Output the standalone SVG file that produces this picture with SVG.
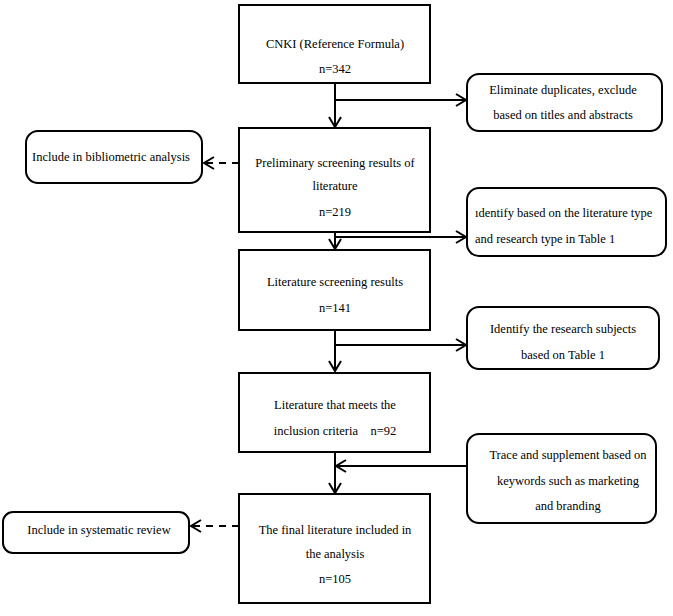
<svg xmlns="http://www.w3.org/2000/svg" width="673" height="616" viewBox="0 0 673 616">
<style>
.box{fill:#fff;stroke:#000;stroke-width:2}
.rbox{fill:#fff;stroke:#000;stroke-width:2}
.ln{fill:none;stroke:#000;stroke-width:2}
.dash{fill:none;stroke:#000;stroke-width:2;stroke-dasharray:7,6}
text{font-family:'Liberation Serif','DejaVu Serif',serif;font-size:12.5px;fill:#000}
.c{text-anchor:middle}
</style>
<defs>
<marker id="arr" markerWidth="14" markerHeight="14" refX="11" refY="7" orient="auto" markerUnits="userSpaceOnUse">
<path d="M1,1 L11,7 L1,13" fill="none" stroke="#000" stroke-width="2"/>
</marker>
</defs>
<rect width="673" height="616" fill="#fff"/>
<g id="connectors">
<line class="ln" x1="335" y1="83" x2="335" y2="127" marker-end="url(#arr)"/>
<line class="ln" x1="335" y1="100" x2="466" y2="100" marker-end="url(#arr)"/>
<line class="dash" x1="239" y1="163" x2="204" y2="163" marker-end="url(#arr)"/>
<line class="ln" x1="335" y1="232" x2="335" y2="249" marker-end="url(#arr)"/>
<line class="ln" x1="335" y1="237" x2="466" y2="237" marker-end="url(#arr)"/>
<line class="ln" x1="335" y1="330" x2="335" y2="371" marker-end="url(#arr)"/>
<line class="ln" x1="335" y1="345" x2="466" y2="345" marker-end="url(#arr)"/>
<line class="ln" x1="335" y1="452" x2="335" y2="493" marker-end="url(#arr)"/>
<line class="ln" x1="467" y1="466" x2="336" y2="466" marker-end="url(#arr)"/>
<line class="dash" x1="239" y1="526" x2="191" y2="526" marker-end="url(#arr)"/>
</g>
<g id="n1">
<rect class="box" x="239" y="5" width="191" height="78"/>
<text class="c" x="335" y="48" font-family="Liberation Serif, serif">CNKI (Reference Formula)</text>
<text class="c" x="335" y="73" font-family="Liberation Serif, serif">n=342</text>
</g>
<g id="n_elim">
<rect class="rbox" x="467" y="74" width="195" height="57" rx="12"/>
<text class="c" x="563" y="94">Eliminate duplicates, exclude</text>
<text class="c" x="563" y="119">based on titles and abstracts</text>
</g>
<g id="n2">
<rect class="box" x="239" y="128" width="191" height="104"/>
<text class="c" x="335" y="167">Preliminary screening results of</text>
<text class="c" x="335" y="190">literature</text>
<text class="c" x="335" y="216">n=219</text>
</g>
<g id="n_biblio">
<rect class="rbox" x="26" y="131" width="176" height="52" rx="12"/>
<text class="c" x="111" y="161">Include in bibliometric analysis</text>
</g>
<g id="n_ident1">
<rect class="rbox" x="467" y="188" width="199" height="68" rx="12"/>
<text x="475" y="217">ıdentify based on the literature type</text>
<text x="475" y="243">and research type in Table 1</text>
</g>
<g id="n3">
<rect class="box" x="239" y="250" width="191" height="80"/>
<text class="c" x="335" y="286">Literature screening results</text>
<text class="c" x="335" y="312">n=141</text>
</g>
<g id="n_ident2">
<rect class="rbox" x="467" y="307" width="192" height="62" rx="12"/>
<text class="c" x="563" y="333">Identify the research subjects</text>
<text class="c" x="563" y="359">based on Table 1</text>
</g>
<g id="n4">
<rect class="box" x="239" y="373" width="191" height="79"/>
<text class="c" x="335" y="409">Literature that meets the</text>
<text class="c" x="335" y="435" xml:space="preserve">inclusion criteria    n=92</text>
</g>
<g id="n_trace">
<rect class="rbox" x="467" y="434" width="189" height="89" rx="12"/>
<text class="c" x="568" y="459">Trace and supplement based on</text>
<text class="c" x="568" y="485">keywords such as marketing</text>
<text class="c" x="568" y="510">and branding</text>
</g>
<g id="n5">
<rect class="box" x="239" y="494" width="191" height="109"/>
<text class="c" x="335" y="534">The final literature included in</text>
<text class="c" x="335" y="558">the analysis</text>
<text class="c" x="335" y="583">n=105</text>
</g>
<g id="n_sys">
<rect class="rbox" x="3" y="512" width="186" height="41" rx="10"/>
<text class="c" x="99" y="534">Include in systematic review</text>
</g>
</svg>
